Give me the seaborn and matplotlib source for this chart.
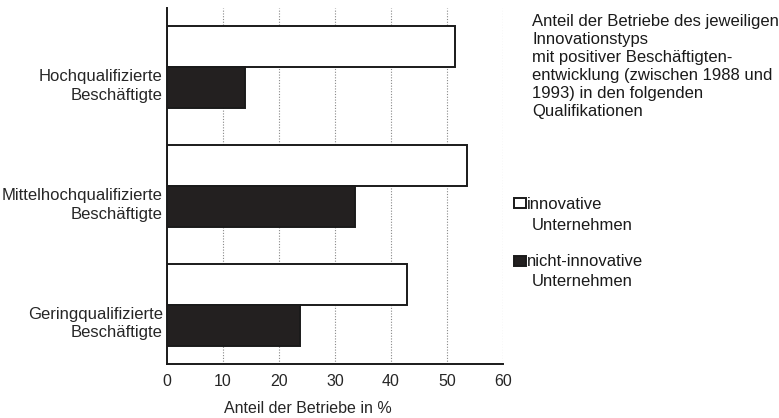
import pandas as pd
import numpy as np
import matplotlib.pyplot as plt
import seaborn as sns

# values (share of firms in %)
qualifikation = ['Hochqualifizierte\nBeschäftigte',
                 'Mittelhochqualifizierte\nBeschäftigte',
                 'Geringqualifizierte\nBeschäftigte']
innovative = [51.4, 53.5, 42.8]
nicht_innovative = [14.0, 33.6, 23.7]
typen = ['innovative', 'nicht-innovative']
xticks = [0, 10, 20, 30, 40, 50, 60]

data = pd.DataFrame({
    'Qualifikation': qualifikation * 2,
    'Typ': [typen[0]] * 3 + [typen[1]] * 3,
    'Anteil': innovative + nicht_innovative,
})

sns.set_style('white')
plt.rcParams['font.family'] = ['Liberation Sans', 'DejaVu Sans']
plt.rcParams['font.size'] = 12
plt.rcParams['text.color'] = '#1a1a1a'

fig = plt.figure(figsize=(7.79, 4.18), dpi=100)
ax = fig.add_axes([167 / 779, 1 - 364 / 418, 336 / 779, 356 / 418])

sns.barplot(data=data, y='Qualifikation', x='Anteil', hue='Typ',
            hue_order=typen, order=qualifikation,
            palette=['white', '#231f20'], edgecolor='#1a1a1a', linewidth=1.4,
            width=0.69, orient='h', ax=ax, legend=True)

ax.set_xlim(0, 60)
ax.set_ylim(2.5, -0.5)
ax.set_xticks(xticks)
ax.set_xticklabels([str(t) for t in xticks], fontsize=11.5)
# category labels sit next to the lower (dark) bar in the original
ax.set_yticks(np.arange(len(qualifikation)) + 0.13)
ax.set_yticklabels(qualifikation, fontsize=12, linespacing=1.3)
ax.tick_params(axis='x', length=0, pad=7)
ax.tick_params(axis='y', length=0, pad=3)

ax.set_axisbelow(True)
ax.grid(False)
for t in xticks[1:]:
    ax.axvline(t, color='#888888', linestyle=(0, (1, 1.5)), linewidth=0.8, zorder=0)

sns.despine(ax=ax, top=True, right=True)
for side in ['left', 'bottom']:
    ax.spines[side].set_color('#1a1a1a')
    ax.spines[side].set_linewidth(1.4)

ax.set_ylabel('')
ax.set_xlabel('Anteil der Betriebe in %', fontsize=11.5)
ax.xaxis.set_label_coords(0.42, -0.105)

fig.text(532 / 779, 1 - 14 / 418,
         'Anteil der Betriebe des jeweiligen\nInnovationstyps\n'
         'mit positiver Beschäftigten-\nentwicklung (zwischen 1988 und\n'
         '1993) in den folgenden\nQualifikationen',
         ha='left', va='top', fontsize=12, linespacing=1.25)

handles, labels = ax.get_legend_handles_labels()
ax.legend(handles, labels, loc='upper left',
          bbox_to_anchor=(514 / 779, 1 - 197 / 418), bbox_transform=fig.transFigure,
          frameon=False, handlelength=0.72, handleheight=0.55, handletextpad=0.05,
          labelspacing=2.55, borderpad=0, borderaxespad=0, fontsize=12)

# second line of each legend entry
for y in [225, 282]:
    fig.text(532 / 779, 1 - y / 418, 'Unternehmen', ha='left', va='center', fontsize=12)

fig.savefig('out.png', dpi=100)
